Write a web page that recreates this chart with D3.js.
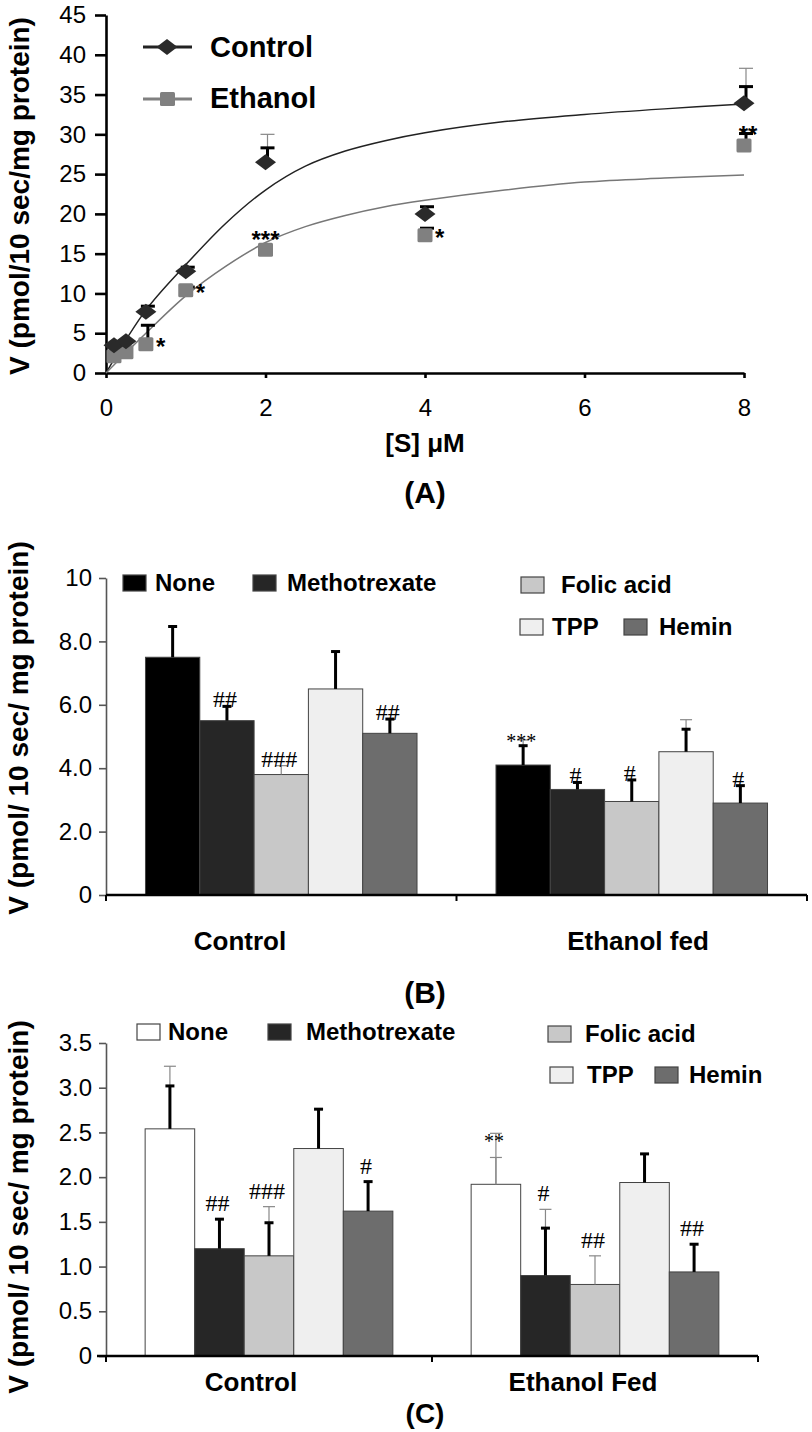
<!DOCTYPE html>
<html><head><meta charset="utf-8">
<script src="https://cdn.jsdelivr.net/npm/d3@7"></script>
<style>body{margin:0;background:#fff} svg{display:block}</style>
</head><body><svg id="c" width="812" height="1432"></svg>
<script>
// ---------------- DATA ----------------
// Panel A
const sConc = [0.1, 0.25, 0.5, 1, 2, 4, 8];
const controlV = [3.5, 4.0, 7.7, 12.8, 26.5, 20.0, 33.9];
const controlErr = [null, null, 8.4, 13.3, 28.3, 20.9, 36.0];
const controlErrThin = [null, null, null, null, 30.0, null, 38.3];
const ethanolV = [2.1, 2.6, 3.6, 10.4, 15.5, 17.3, 28.6];
const ethanolErr = [null, null, 6.0, 10.8, null, 18.2, 30.1];
const ethanolSig = ["", "", "*", "*", "***", "*", "**"];
const controlFitS = [0, 0.5, 1, 1.5, 2, 2.5, 3, 3.5, 4, 5, 6, 7, 8];
const controlFitV = [0, 7.9, 13.6, 18.8, 23.0, 26.0, 27.9, 29.2, 30.2, 31.6, 32.5, 33.2, 33.8];
const ethanolFitS = [0, 0.5, 1, 1.5, 2, 2.5, 3, 3.5, 4, 5, 6, 7, 8];
const ethanolFitV = [0, 5.0, 9.7, 13.4, 16.4, 18.4, 19.8, 20.9, 21.7, 23.0, 24.0, 24.5, 24.9];
const aYTicks = [0, 5, 10, 15, 20, 25, 30, 35, 40, 45];
const aXTicks = [0, 2, 4, 6, 8];

// Panels B and C
const treatments = ["None", "Methotrexate", "Folic acid", "TPP", "Hemin"];
const groupsB = ["Control", "Ethanol fed"];
const groupsC = ["Control", "Ethanol Fed"];

const bControl = [7.5, 5.5, 3.8, 6.5, 5.1];
const bControlErr = [8.47, 5.95, null, 7.68, 5.55];
const bControlErrThin = [null, null, 4.08, null, null];
const bControlSig = ["", "##", "###", "", "##"];
const bEthanol = [4.1, 3.33, 2.95, 4.52, 2.9];
const bEthanolErr = [4.71, 3.55, 3.63, 5.23, 3.45];
const bEthanolErrThin = [4.89, null, null, 5.53, null];
const bEthanolSig = ["***", "#", "#", "", "#"];
const bYTicks = [0, 2, 4, 6, 8, 10];
const bYLabels = ["0", "2.0", "4.0", "6.0", "8.0", "10"];

const cControl = [2.54, 1.20, 1.12, 2.32, 1.62];
const cControlErr = [3.02, 1.53, 1.49, 2.76, 1.95];
const cControlErrThin = [3.24, null, 1.67, null, null];
const cControlSig = ["", "##", "###", "", "#"];
const cEthanol = [1.92, 0.90, 0.80, 1.94, 0.94];
const cEthanolErr = [null, 1.43, null, 2.26, 1.25];
const cEthanolErrThin = [2.49, 1.64, 1.12, null, null];
const cEthanolErrThin2 = [2.22, null, null, null, null];
const cEthanolSig = ["**", "#", "##", "", "##"];
const cYTicks = [0, 0.5, 1, 1.5, 2, 2.5, 3, 3.5];
const cYLabels = ["0", "0.5", "1.0", "1.5", "2.0", "2.5", "3.0", "3.5"];

// ---------------- STYLE ----------------
const SANS = "'Liberation Sans', Arial, Helvetica, sans-serif";
const SERIF = "'Liberation Serif', 'Times New Roman', serif";
const colorsB = ["#000000", "#262626", "#c8c8c8", "#efefef", "#6d6d6d"];
const colorsC = ["#ffffff", "#262626", "#c8c8c8", "#efefef", "#6d6d6d"];

const svg = d3.select("#c");
svg.append("rect").attr("width", 812).attr("height", 1432).attr("fill", "#fff");

function text(g, x, y, str, opts = {}) {
  return g.append("text").attr("x", x).attr("y", y).text(str)
    .attr("font-family", opts.family || SANS)
    .attr("font-size", opts.size || 23)
    .attr("font-weight", opts.weight || "normal")
    .attr("text-anchor", opts.anchor || "start")
    .attr("fill", opts.fill || "#000");
}
function vlabel(x, y, str, size) {
  svg.append("text").attr("transform", `translate(${x},${y}) rotate(-90)`)
    .attr("text-anchor", "middle").attr("font-family", SANS)
    .attr("font-weight", "bold").attr("font-size", size).text(str);
}
function errBar(g, x, y0, y1, thick, capW) {
  g.append("line").attr("x1", x).attr("x2", x).attr("y1", y0).attr("y2", y1)
    .attr("stroke", thick ? "#000" : "#888").attr("stroke-width", thick ? 3 : 1.2);
  g.append("line").attr("x1", x - capW).attr("x2", x + capW).attr("y1", y1).attr("y2", y1)
    .attr("stroke", thick ? "#000" : "#888").attr("stroke-width", thick ? 3 : 1.2);
}

// ---------------- PANEL A ----------------
(function () {
  const g = svg.append("g");
  const x = d3.scaleLinear().domain([0, 8]).range([106, 744]);
  const y = d3.scaleLinear().domain([0, 45]).range([373, 15]);

  const ya = g.append("g").attr("transform", "translate(106,0)")
    .call(d3.axisLeft(y).tickValues(aYTicks).tickSize(11).tickSizeOuter(0).tickPadding(9));
  const xa = g.append("g").attr("transform", "translate(0,373)")
    .call(d3.axisBottom(x).tickValues(aXTicks).tickSize(5).tickSizeOuter(0).tickPadding(21));
  [ya, xa].forEach(a => {
    a.select(".domain").attr("stroke-width", 2.6).attr("stroke", "#000");
    a.selectAll(".tick line").attr("stroke-width", 2.6).attr("stroke", "#000");
    a.selectAll(".tick text").attr("font-family", SANS).attr("font-size", 24).attr("fill", "#000");
  });

  const line = d3.line().x(d => x(d[0])).y(d => y(d[1])).curve(d3.curveCatmullRom.alpha(0.5));
  g.append("path").attr("d", line(controlFitS.map((s, i) => [s, controlFitV[i]])))
    .attr("fill", "none").attr("stroke", "#222").attr("stroke-width", 1.5);
  g.append("path").attr("d", line(ethanolFitS.map((s, i) => [s, ethanolFitV[i]])))
    .attr("fill", "none").attr("stroke", "#777").attr("stroke-width", 1.5);

  sConc.forEach((s, i) => {
    const px = x(s) + 2;
    if (controlErrThin[i] != null) errBar(g, px, y(controlV[i]), y(controlErrThin[i]), false, 7);
    if (controlErr[i] != null) errBar(g, px, y(controlV[i]), y(controlErr[i]), true, 7);
    if (ethanolErr[i] != null) errBar(g, px, y(ethanolV[i]), y(ethanolErr[i]), true, 7);
  });

  const diamond = "M-10.5,0 L0,-8 L10.5,0 L0,8 Z";
  sConc.forEach((s, i) => {
    g.append("rect").attr("x", x(s) - 7.5).attr("y", y(ethanolV[i]) - 7).attr("width", 15).attr("height", 14)
      .attr("rx", 1.5).attr("fill", "#808080");
  });
  sConc.forEach((s, i) => {
    g.append("path").attr("d", diamond).attr("transform", `translate(${x(s)},${y(controlV[i])})`)
      .attr("fill", "#2a2a2a");
  });
  // significance marks
  sConc.forEach((s, i) => {
    const lab = ethanolSig[i];
    if (!lab) return;
    let cx, cy, anchor;
    if (lab.length > 1) { cx = x(s) + (lab.length === 2 ? 4 : 0); cy = y(ethanolV[i]) - 16; anchor = "middle"; }
    else { cx = x(s) + 10; cy = y(ethanolV[i]) - 3; anchor = "start"; }
    text(g, cx, cy + 0.58 * 24, lab, { size: 24, anchor, weight: "bold" });
  });

  // legend
  g.append("line").attr("x1", 143).attr("x2", 192).attr("y1", 47).attr("y2", 47).attr("stroke", "#222").attr("stroke-width", 3);
  g.append("path").attr("d", diamond).attr("transform", "translate(167,47)").attr("fill", "#2a2a2a");
  text(g, 210, 57, "Control", { size: 29, weight: "bold" });
  g.append("line").attr("x1", 143).attr("x2", 192).attr("y1", 99).attr("y2", 99).attr("stroke", "#808080").attr("stroke-width", 3);
  g.append("rect").attr("x", 160).attr("y", 92).attr("width", 15).attr("height", 14).attr("rx", 1.5).attr("fill", "#808080");
  text(g, 210, 108, "Ethanol", { size: 29, weight: "bold" });

  text(g, 425, 452, "[S] μM", { size: 26, weight: "bold", anchor: "middle" });
  text(g, 425, 503, "(A)", { size: 30, weight: "bold", anchor: "middle" });
  vlabel(29, 196, "V (pmol/10 sec/mg protein)", 28);
})();

// ---------------- BAR PANELS ----------------
function barPanel(cfg) {
  const g = svg.append("g");
  const y = d3.scaleLinear().domain([0, cfg.yMax]).range([cfg.y0, cfg.yTop]);
  const x0 = d3.scaleBand().domain(cfg.groups).range([106, cfg.xEnd]).padding(0);
  const x1 = d3.scaleBand().domain(treatments).range([0, x0.bandwidth()])
    .paddingInner(0).paddingOuter(cfg.outerPad);

  // y axis
  const ya = g.append("g").attr("transform", "translate(106,0)")
    .call(d3.axisLeft(y).tickValues(cfg.yTicks).tickFormat((d, i) => cfg.yLabels[i])
      .tickSize(7).tickSizeOuter(0).tickPadding(7));
  ya.select(".domain").attr("stroke", "#555").attr("stroke-width", 1.6);
  ya.selectAll(".tick line").attr("stroke", "#555").attr("stroke-width", 1.6);
  ya.selectAll(".tick text").attr("font-family", SANS).attr("font-size", 24).attr("fill", "#000");

  const series = [
    { vals: cfg.ctrl, err: cfg.ctrlErr, thin: cfg.ctrlThin, thin2: null, sig: cfg.ctrlSig },
    { vals: cfg.eth, err: cfg.ethErr, thin: cfg.ethThin, thin2: cfg.ethThin2, sig: cfg.ethSig }
  ];
  series.forEach((s, gi) => {
    const gx = x0(cfg.groups[gi]);
    treatments.forEach((t, i) => {
      const bx = gx + x1(t);
      g.append("rect").attr("x", bx).attr("y", y(s.vals[i])).attr("width", x1.bandwidth())
        .attr("height", y(0) - y(s.vals[i])).attr("fill", cfg.colors[i])
        .attr("stroke", "#444").attr("stroke-width", 1);
    });
  });
  series.forEach((s, gi) => {
    const gx = x0(cfg.groups[gi]);
    treatments.forEach((t, i) => {
      const cx = gx + x1(t) + x1.bandwidth() / 2;
      if (s.thin && s.thin[i] != null) errBar(g, cx, y(s.vals[i]), y(s.thin[i]), false, 6);
      if (s.thin2 && s.thin2[i] != null) errBar(g, cx, y(s.vals[i]), y(s.thin2[i]), false, 6);
      if (s.err[i] != null) errBar(g, cx, y(s.vals[i]), y(s.err[i]), true, 4.5);
      const lab = s.sig[i];
      if (lab) {
        const tops = [s.vals[i], s.err[i], s.thin ? s.thin[i] : null].filter(v => v != null);
        const top = y(d3.max(tops));
        const isStar = lab.includes("*");
        const yy = isStar ? top + cfg.starOff : top + cfg.hashOff;
        text(g, cx - 2, yy, lab, { family: SERIF, size: isStar ? 20 : cfg.hashSize, anchor: "middle" });
      }
    });
  });

  // x axis
  g.append("line").attr("x1", cfg.xAxisStart).attr("x2", cfg.xEnd).attr("y1", y(0)).attr("y2", y(0))
    .attr("stroke", "#000").attr("stroke-width", 2.4);
  const edges = [106, x0(cfg.groups[1]), cfg.xEnd];
  edges.forEach(e => g.append("line").attr("x1", e).attr("x2", e).attr("y1", y(0)).attr("y2", y(0) + 6)
    .attr("stroke", "#000").attr("stroke-width", 2));

  cfg.groups.forEach((grp, gi) => text(g, cfg.catX[gi], cfg.catY, grp, { size: 26, weight: "bold", anchor: "middle" }));
  text(g, 425, cfg.letterY, cfg.letter, { size: cfg.letterSize, weight: "bold", anchor: "middle" });
  vlabel(28, cfg.vlabelY, "V (pmol/ 10 sec/ mg protein)", 28);

  // legend
  cfg.legend.forEach((L, i) => {
    g.append("rect").attr("x", L[0]).attr("y", L[1]).attr("width", 23).attr("height", 16)
      .attr("fill", cfg.colors[i]).attr("stroke", "#444").attr("stroke-width", 1.2);
    text(g, L[2], L[1] + 16, treatments[i], { size: 24, weight: "bold" });
  });
}

barPanel({
  groups: groupsB, yMax: 10, y0: 895, yTop: 578, xEnd: 807, xAxisStart: 106, outerPad: 0.727,
  yTicks: bYTicks, yLabels: bYLabels, colors: colorsB,
  ctrl: bControl, ctrlErr: bControlErr, ctrlThin: bControlErrThin, ctrlSig: bControlSig,
  eth: bEthanol, ethErr: bEthanolErr, ethThin: bEthanolErrThin, ethThin2: null, ethSig: bEthanolSig,
  starOff: 8, hashOff: 1, hashSize: 24,
  catX: [240, 638], catY: 950, letter: "(B)", letterY: 1003, letterSize: 30, vlabelY: 728,
  legend: [[123, 575, 155], [253, 575, 287], [521, 577, 561], [520, 619, 552], [624, 619, 659]]
});

barPanel({
  groups: groupsC, yMax: 3.5, y0: 1356, yTop: 1043, xEnd: 758, xAxisStart: 97, outerPad: 0.79,
  yTicks: cYTicks, yLabels: cYLabels, colors: colorsC,
  ctrl: cControl, ctrlErr: cControlErr, ctrlThin: cControlErrThin, ctrlSig: cControlSig,
  eth: cEthanol, ethErr: cEthanolErr, ethThin: cEthanolErrThin, ethThin2: cEthanolErrThin2, ethSig: cEthanolSig,
  starOff: 15, hashOff: -8, hashSize: 24,
  catX: [251, 583], catY: 1391, letter: "(C)", letterY: 1423, letterSize: 28, vlabelY: 1207,
  legend: [[137, 1024, 168], [268, 1024, 306], [548, 1026, 585], [550, 1067, 587], [655, 1067, 689]]
});
</script></body></html>
